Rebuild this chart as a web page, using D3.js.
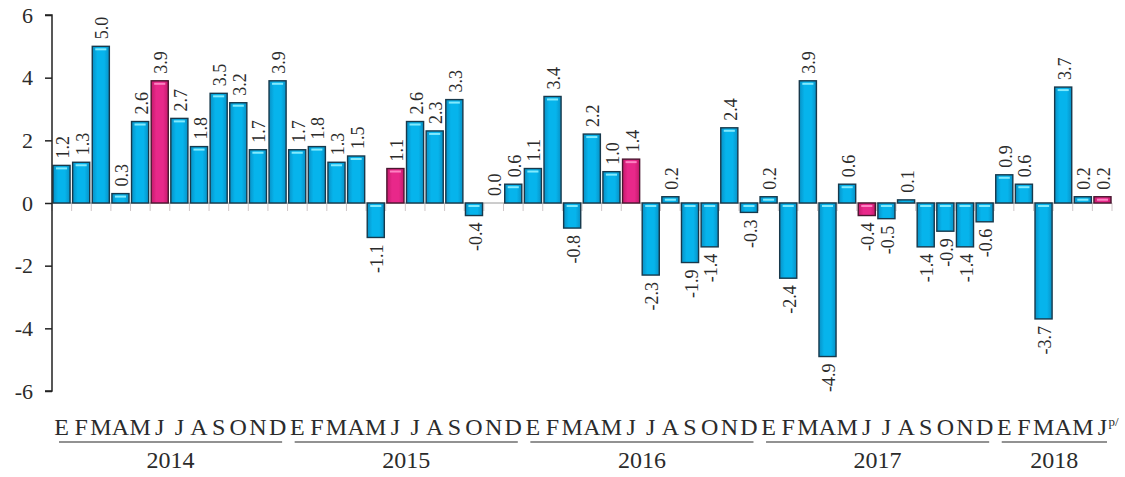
<!DOCTYPE html>
<html>
<head>
<meta charset="utf-8">
<script src="https://cdn.jsdelivr.net/npm/d3@7"></script>
<style>
  html, body { margin: 0; padding: 0; background: #fff; }
  svg { display: block; }
  text { font-family: "Liberation Serif", "Times New Roman", serif; fill: #2b2b2b; }
</style>
</head>
<body>
<svg id="chart" width="1125" height="477"></svg>
<script>
// Monthly variation (%), January 2014 – June 2018 (p/ = preliminary)
const years = ["2014", "2015", "2016", "2017", "2018"];
const monthLetters = ["E", "F", "M", "A", "M", "J", "J", "A", "S", "O", "N", "D"];
const values2014 = [1.2, 1.3, 5.0, 0.3, 2.6, 3.9, 2.7, 1.8, 3.5, 3.2, 1.7, 3.9];
const values2015 = [1.7, 1.8, 1.3, 1.5, -1.1, 1.1, 2.6, 2.3, 3.3, -0.4, 0.0, 0.6];
const values2016 = [1.1, 3.4, -0.8, 2.2, 1.0, 1.4, -2.3, 0.2, -1.9, -1.4, 2.4, -0.3];
const values2017 = [0.2, -2.4, 3.9, -4.9, 0.6, -0.4, -0.5, 0.1, -1.4, -0.9, -1.4, -0.6];
const values2018 = [0.9, 0.6, -3.7, 3.7, 0.2, 0.2];
const yTicks = [-6, -4, -2, 0, 2, 4, 6];
const highlightMonth = 5; // June bars drawn in magenta

const seriesByYear = [values2014, values2015, values2016, values2017, values2018];
const data = [];
seriesByYear.forEach((vals, yi) => {
  vals.forEach((v, mi) => {
    data.push({ key: years[yi] + "-" + mi, year: years[yi], month: mi, letter: monthLetters[mi], value: v });
  });
});

const svg = d3.select("#chart");
const plotLeft = 52, plotRight = 1112, plotTop = 15, plotBottom = 391;

const x = d3.scaleBand()
  .domain(data.map(d => d.key))
  .range([plotLeft, plotRight])
  .paddingInner(0.13)
  .paddingOuter(0.05);

const y = d3.scaleLinear().domain([-6, 6]).range([plotBottom, plotTop]);

// Plain hyphen for negative numbers
const hyphen = f => v => f(v).replace("\u2212", "-");
const fmtValue = hyphen(d3.format(".1f"));
const fmtTick = hyphen(d3.format("d"));

// Gradients for the bevelled bars
const defs = svg.append("defs");
function barGradient(id, edge, mid) {
  const g = defs.append("linearGradient").attr("id", id)
    .attr("x1", "0%").attr("x2", "100%").attr("y1", "0%").attr("y2", "0%");
  g.append("stop").attr("offset", "0%").attr("stop-color", edge);
  g.append("stop").attr("offset", "30%").attr("stop-color", mid);
  g.append("stop").attr("offset", "70%").attr("stop-color", mid);
  g.append("stop").attr("offset", "100%").attr("stop-color", edge);
}
barGradient("gBlue", "#0891c6", "#06b4ec");
barGradient("gPink", "#c41a6c", "#e8288a");

// Zero line and category ticks hanging below it
const boundaries = d3.range(data.length + 1).map(i => plotLeft + i * (plotRight - plotLeft) / data.length);
svg.append("g").selectAll("line").data(boundaries).join("line")
  .attr("x1", d => d).attr("x2", d => d)
  .attr("y1", y(0)).attr("y2", y(0) + 8)
  .attr("stroke", "#cfc6c8").attr("stroke-width", 1);

svg.append("line")
  .attr("x1", plotLeft).attr("x2", plotRight)
  .attr("y1", y(0)).attr("y2", y(0))
  .attr("stroke", "#9a9a9a").attr("stroke-width", 1);

// Bars
const bars = svg.append("g").selectAll("g").data(data).join("g");
bars.append("rect")
  .attr("x", d => x(d.key))
  .attr("width", x.bandwidth())
  .attr("y", d => y(Math.max(0, d.value)))
  .attr("height", d => Math.abs(y(d.value) - y(0)))
  .attr("fill", d => d.month === highlightMonth ? "url(#gPink)" : "url(#gBlue)")
  .attr("stroke", d => d.month === highlightMonth ? "#4a1630" : "#17394c")
  .attr("stroke-width", 1.4);

// Highlight streak near the top edge of each bar
bars.filter(d => Math.abs(y(d.value) - y(0)) > 5).append("rect")
  .attr("x", d => x(d.key) + 3)
  .attr("width", x.bandwidth() - 6)
  .attr("y", d => y(Math.max(0, d.value)) + 2)
  .attr("height", 2)
  .attr("fill", d => d.month === highlightMonth ? "#ff8cc8" : "#8ff0ff")
  .attr("opacity", 0.9);

// Value labels, rotated
svg.append("g").selectAll("text").data(data).join("text")
  .attr("transform", d => {
    const cx = x(d.key) + x.bandwidth() / 2;
    const yy = d.value >= 0 ? y(d.value) - 7 : y(d.value) + 7;
    return `translate(${cx},${yy}) rotate(-90)`;
  })
  .attr("text-anchor", d => d.value >= 0 ? "start" : "end")
  .attr("dy", "0.42em")
  .attr("font-size", 18)
  .text(d => fmtValue(d.value));

// Y axis
const yAxis = d3.axisLeft(y).tickValues(yTicks).tickSize(7).tickPadding(12).tickFormat(fmtTick);
const ag = svg.append("g").attr("transform", `translate(${plotLeft},0)`).call(yAxis);
ag.select(".domain").attr("stroke", "#222").attr("stroke-width", 1.5).attr("d", `M-7,${plotTop}H0V${plotBottom}H-7`);
ag.selectAll(".tick line").attr("stroke", "#222").attr("stroke-width", 1.5);
ag.selectAll(".tick text")
  .attr("font-family", "'Liberation Serif', 'Times New Roman', serif")
  .attr("font-size", 22).attr("fill", "#2b2b2b");

// Month letters
svg.append("g").selectAll("text").data(data).join("text")
  .attr("x", d => x(d.key) + x.bandwidth() / 2)
  .attr("y", 435)
  .attr("text-anchor", "middle")
  .attr("font-size", 24)
  .text(d => d.letter);

// Preliminary mark after the last month
const last = data[data.length - 1];
svg.append("text")
  .attr("x", x(last.key) + x.bandwidth() / 2 + 6)
  .attr("y", 426)
  .attr("font-size", 13)
  .text("p/");

// Year groups: underline and label
const yearGroups = years.map(yr => {
  const items = data.filter(d => d.year === yr);
  const x0 = x(items[0].key) + 6;
  const x1 = x(items[items.length - 1].key) + x.bandwidth() - 4;
  return { year: yr, x0, x1 };
});
svg.append("g").selectAll("line").data(yearGroups).join("line")
  .attr("x1", d => d.x0).attr("x2", d => d.x1)
  .attr("y1", 442).attr("y2", 442)
  .attr("stroke", "#6e6e6e").attr("stroke-width", 1.5);
svg.append("g").selectAll("text").data(yearGroups).join("text")
  .attr("x", d => (d.x0 + d.x1) / 2)
  .attr("y", 468)
  .attr("text-anchor", "middle")
  .attr("font-size", 24)
  .text(d => d.year);
</script>
</body>
</html>
